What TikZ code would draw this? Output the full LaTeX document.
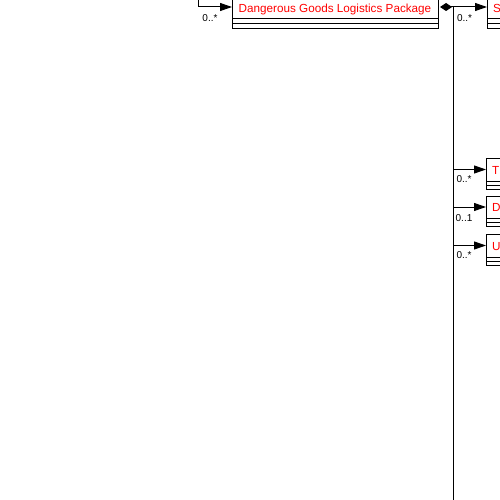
\documentclass[tikz,border=0pt]{standalone}
\usepackage{fontspec}
\setmainfont{Liberation Sans}
\usetikzlibrary{arrows.meta}
\begin{document}
\begin{tikzpicture}[x=1pt,y=-1pt,line width=1pt,
  title/.style={draw,anchor=north west,inner sep=0pt,outer sep=0pt,minimum height=22pt,text height=11pt,text depth=2pt,text=red,font=\fontsize{11.7}{13}\selectfont},
  ptitle/.style={title,text width=55pt,align=left,inner xsep=6pt},
  comp/.style={draw,anchor=north west,inner sep=0pt,outer sep=0pt,minimum height=#1},
  comp/.default=5pt,
  mult/.style={font=\fontsize{10}{11}\selectfont,inner sep=0pt},
  assoc/.style={-{Triangle[length=12pt,width=8pt]}},
  compo/.style={{Diamond[length=12pt,width=8pt]}-{Triangle[length=12pt,width=8pt]}}]
\useasboundingbox (0,0) rectangle (500,500);
\clip (0,0) rectangle (500,500);
% Dangerous Goods Logistics Package
\node[title,minimum width=206pt] (dglp) at (232,-3) {Dangerous Goods Logistics Package};
\node[comp,minimum width=206pt] (dglpa) at (dglp.south west) {};
\node[comp,minimum width=206pt] (dglpb) at (dglpa.south west) {};
% S box
\node[ptitle] (s) at (487,-3) {S};
\node[comp,minimum width=67pt] (sa) at (s.south west) {};
\node[comp,minimum width=67pt] (sb) at (sa.south west) {};
% T box
\node[ptitle,minimum height=23pt] (t) at (486,158) {T};
\node[comp=4pt,minimum width=67pt] (ta) at (t.south west) {};
\node[comp=4pt,minimum width=67pt] (tb) at (ta.south west) {};
% D box
\node[ptitle] (d) at (486,196) {D};
\node[comp=4pt,minimum width=67pt] (da) at (d.south west) {};
\node[comp=4pt,minimum width=67pt] (db) at (da.south west) {};
% U box
\node[ptitle,minimum height=23pt] (u) at (486,234) {U};
\node[comp=4pt,minimum width=67pt] (ua) at (u.south west) {};
\node[comp=4pt,minimum width=67pt] (ub) at (ua.south west) {};
% connectors
\coordinate (src) at (198,0);
\draw[assoc] (src) |- ([yshift=1pt]dglp.west);
\node[mult] (m1) at (210,18.5) {0..*};
\draw[compo] ([xshift=2pt,yshift=1pt]dglp.east) -- ([yshift=1pt]s.west);
\node[mult] (m2) at (464.5,18.5) {0..*};
\coordinate (spinetop) at (453,7);
\coordinate (spinebot) at (453,500);
\draw (spinetop) -- (spinebot);
\draw[assoc] (spinetop |- t.west) -- (t.west);
\node[mult] (m3) at (464,179.5) {0..*};
\draw[assoc] (spinetop |- d.west) -- (d.west);
\node[mult] (m4) at (464,218) {0..1};
\draw[assoc] (spinetop |- u.west) -- (u.west);
\node[mult] (m5) at (464,255.5) {0..*};
\end{tikzpicture}
\end{document}
